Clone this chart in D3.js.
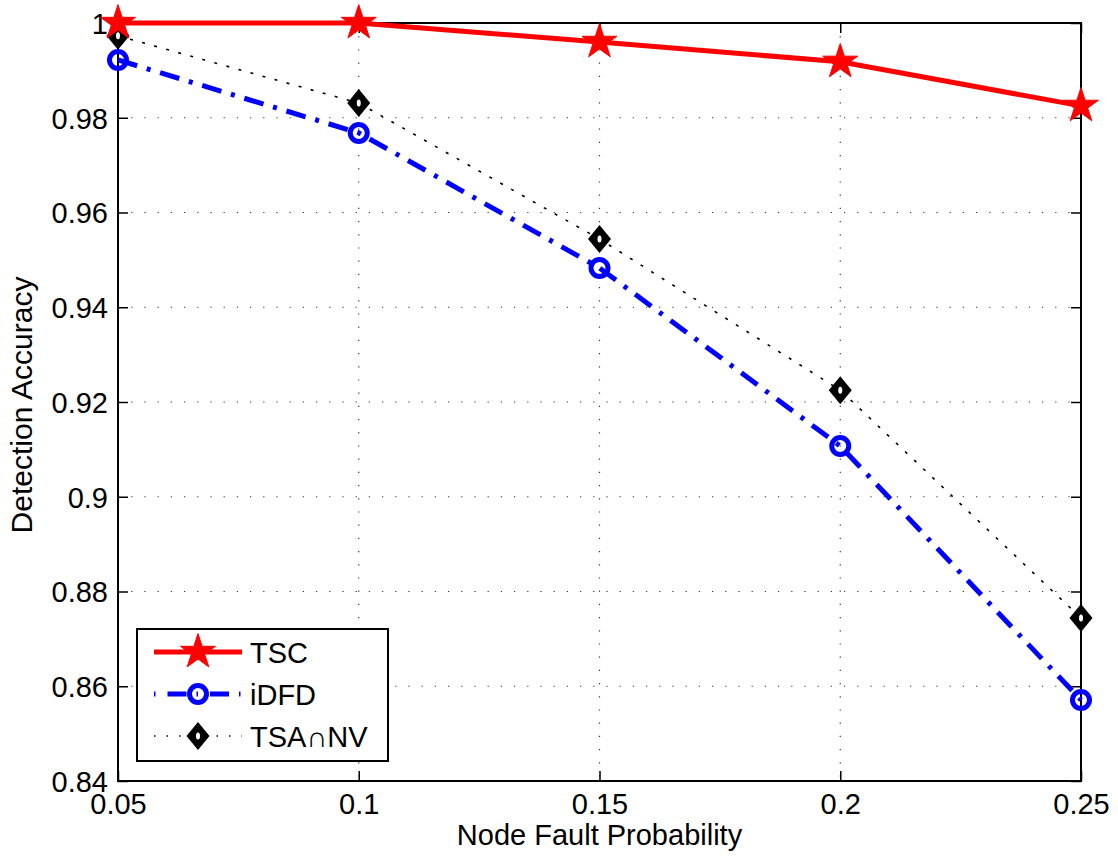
<!DOCTYPE html>
<html>
<head>
<meta charset="utf-8">
<script src="https://cdn.jsdelivr.net/npm/d3@7"></script>
<style>
  body { margin: 0; background: #fff; }
  text { font-family: "Liberation Sans", Arial, sans-serif; }
</style>
</head>
<body>
<svg id="chart" width="1118" height="861"></svg>
<script>
// data
var probs = [0.05, 0.1, 0.15, 0.2, 0.25];
var tsc = [1.0, 1.0, 0.996, 0.9918, 0.9825];
var idfd = [0.9922, 0.9768, 0.9483, 0.9107, 0.8571];
var tsanv = [0.9973, 0.9831, 0.9544, 0.9225, 0.8744];
var xTicks = [0.05, 0.1, 0.15, 0.2, 0.25];
var yTicks = [0.84, 0.86, 0.88, 0.9, 0.92, 0.94, 0.96, 0.98, 1];
var seriesNames = ["TSC", "iDFD", "TSA\u2229NV"];

var pLeft = 118, pRight = 1081, pTop = 23, pBottom = 781;
var fontSize = 29;

var svg = d3.select("#chart");

var x = d3.scaleLinear().domain([0.05, 0.25]).range([pLeft, pRight]);
var y = d3.scaleLinear().domain([0.84, 1]).range([pBottom, pTop]);

var fmt = function(d) { return String(+d.toFixed(2)); };

// grid
var grid = svg.append("g").attr("class", "grid");
grid.selectAll("line.gx")
  .data(xTicks.slice(1, -1))
  .enter().append("line")
  .attr("x1", function(d) { return x(d); })
  .attr("x2", function(d) { return x(d); })
  .attr("y1", pTop).attr("y2", pBottom)
  .attr("stroke", "#333").attr("stroke-width", 1.2)
  .attr("stroke-dasharray", "1.2,12");
grid.selectAll("line.gy")
  .data(yTicks.slice(1, -1))
  .enter().append("line")
  .attr("y1", function(d) { return y(d); })
  .attr("y2", function(d) { return y(d); })
  .attr("x1", pLeft).attr("x2", pRight)
  .attr("stroke", "#333").attr("stroke-width", 1.2)
  .attr("stroke-dasharray", "1.2,12");

// axes (ticks inward, on all four sides)
var xAxisB = d3.axisBottom(x).tickValues(xTicks).tickSize(-10).tickPadding(12).tickFormat(fmt);
var xAxisT = d3.axisTop(x).tickValues(xTicks).tickSize(-10).tickFormat("");
var yAxisL = d3.axisLeft(y).tickValues(yTicks).tickSize(-10).tickPadding(10).tickFormat(fmt);
var yAxisR = d3.axisRight(y).tickValues(yTicks).tickSize(-10).tickFormat("");

function styleAxis(g) {
  g.select(".domain").remove();
  g.selectAll(".tick line").attr("stroke", "#000").attr("stroke-width", 1.5);
  g.selectAll(".tick text").attr("fill", "#000")
    .style("font-family", '"Liberation Sans", Arial, sans-serif')
    .style("font-size", fontSize + "px");
}

svg.append("g").attr("transform", "translate(0," + pBottom + ")").call(xAxisB).call(styleAxis)
  .selectAll(".tick text").attr("dy", "0.72em");
svg.append("g").attr("transform", "translate(0," + pTop + ")").call(xAxisT).call(styleAxis);
svg.append("g").attr("transform", "translate(" + pLeft + ",0)").call(yAxisL).call(styleAxis)
  .selectAll(".tick text").attr("dy", "0.36em");
svg.append("g").attr("transform", "translate(" + pRight + ",0)").call(yAxisR).call(styleAxis);

svg.append("rect")
  .attr("x", pLeft).attr("y", pTop)
  .attr("width", pRight - pLeft).attr("height", pBottom - pTop)
  .attr("fill", "none").attr("stroke", "#000").attr("stroke-width", 2);

// axis labels
svg.append("text")
  .attr("x", (pLeft + pRight) / 2).attr("y", 845)
  .attr("text-anchor", "middle")
  .style("font-size", fontSize + "px")
  .text("Node Fault Probability");
svg.append("text")
  .attr("transform", "translate(32,405) rotate(-90)")
  .attr("text-anchor", "middle")
  .style("font-size", "30px")
  .text("Detection Accuracy");

// markers
var star = d3.symbol().type(d3.symbolStar).size(380);
var diamond = "M0,-14L11.5,0L0,14L-11.5,0Z";

function drawStar(g, cx, cy) {
  g.append("path").attr("d", star())
    .attr("transform", "translate(" + cx + "," + cy + ")")
    .attr("fill", "#ff0000").attr("stroke", "#ff0000").attr("stroke-width", 1);
}
function drawCircle(g, cx, cy) {
  g.append("circle").attr("cx", cx).attr("cy", cy).attr("r", 8.5)
    .attr("fill", "none").attr("stroke", "#0000ff").attr("stroke-width", 5);
}
function drawDiamond(g, cx, cy) {
  g.append("path").attr("d", diamond)
    .attr("transform", "translate(" + cx + "," + cy + ")")
    .attr("fill", "#000");
  g.append("ellipse").attr("cx", cx).attr("cy", cy).attr("rx", 2).attr("ry", 3.5)
    .attr("fill", "#fff");
}

var line = d3.line()
  .x(function(d, i) { return x(probs[i]); })
  .y(function(d) { return y(d); });

var series = [
  { vals: tsanv, color: "#000", width: 1.6, dash: "3,9.5", mark: drawDiamond },
  { vals: idfd, color: "#0000ff", width: 5, dash: "20,10,4,10", mark: drawCircle },
  { vals: tsc, color: "#ff0000", width: 5, dash: null, mark: drawStar }
];

var plot = svg.append("g");
series.forEach(function(s) {
  plot.append("path").datum(s.vals)
    .attr("d", line)
    .attr("fill", "none")
    .attr("stroke", s.color)
    .attr("stroke-width", s.width)
    .attr("stroke-dasharray", s.dash);
  s.vals.forEach(function(v, i) { s.mark(plot, x(probs[i]), y(v)); });
});

// legend
var lg = svg.append("g");
lg.append("rect").attr("x", 137).attr("y", 629).attr("width", 251).attr("height", 132)
  .attr("fill", "#fff").attr("stroke", "#000").attr("stroke-width", 2);
var legendRows = [
  { name: seriesNames[0], s: series[2], yy: 652 },
  { name: seriesNames[1], s: series[1], yy: 694 },
  { name: seriesNames[2], s: series[0], yy: 736 }
];
legendRows.forEach(function(r) {
  lg.append("line").attr("x1", 154).attr("x2", 242).attr("y1", r.yy).attr("y2", r.yy)
    .attr("stroke", r.s.color).attr("stroke-width", r.s.width)
    .attr("stroke-dasharray", r.s.dash ? (r.s.width > 2 ? "1.5,12,19,10" : "1.5,11") : null);
  r.s.mark(lg, 198, r.yy);
  lg.append("text").attr("x", 250).attr("y", r.yy + 11)
    .style("font-size", fontSize + "px")
    .text(r.name);
});
</script>
</body>
</html>
